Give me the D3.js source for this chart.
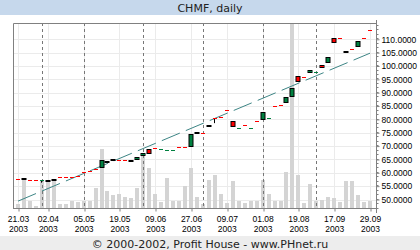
<!DOCTYPE html>
<html>
<head>
<meta charset="utf-8">
<script src="https://cdn.jsdelivr.net/npm/d3@7"></script>
<style>
body{margin:0;background:#fff}
svg{display:block}
</style>
</head>
<body>
<div id="chart"></div>
<script>
// daily quotes, one entry per trading day shown (60 days)
var opens = [57.6, 57.5, 57.35, 57.35, 57.25, 57.0, 57.4, 58.35, 58.35, 58.55,
	58.95, 60.25, 60.65, 61.35, 61.7, 64.2, 64.8, 64.75, 64.75, 64.4,
	64.7, 66.2, 68.9, 69.25, 68.75, 68.6, 68.35, 69.75, 69.75, 69.55,
	74.8, 74.95, 77.6, 80.45, 81.05, 83.55, 79.4, 76.65, 77.85, 76.65,
	79.35, 79.8, 80.35, 84.95, 85.35, 86.25, 88.5, 96.25, 96.05, 97.3,
	97.55, 100.4, 101.2, 110.4, 110.45, 105.5, 106.3, 107.0, 110.45, 113.55]
var closes = [57.5, 57.5, 57.25, 57.25, 57.35, 57.0, 57.4, 58.25, 58.25, 58.45,
	58.85, 60.15, 60.55, 61.25, 64.8, 64.2, 64.8, 64.65, 64.65, 64.4,
	66.0, 67.5, 67.2, 69.15, 68.85, 68.7, 68.45, 69.65, 69.65, 74.5,
	74.8, 74.85, 77.6, 80.35, 80.95, 83.45, 77.3, 76.75, 77.75, 76.75,
	79.25, 82.7, 80.45, 84.85, 85.25, 88.3, 91.65, 94.1, 95.95, 98.5,
	97.65, 99.1, 103.3, 108.5, 110.35, 104.75, 106.2, 109.5, 110.35, 113.45]
var lows = [{i: 4, v: 56.3}, {i: 33, v: 78.6}]
var volumes = [4, 28, 7, 2, 28, 27.6, 29, 4, 4, 7,
	6, 7, 7, 20, 59, 17, 13, 14, 11, 10,
	20, 54, 40, 14, 6, 30, 7, 7, 22, 40,
	11, 4, 28, 33, 14, 5, 27, 7, 5, 7,
	7, 28, 14, 7, 7, 36, 230, 33, 5, 24,
	7, 8, 11, 10, 6, 27, 27, 13, 6, 7]
// trend line end points (day index, price)
var trend = [{i: 0, v: 49.4}, {i: 59, v: 104.8}]
// labelled days and first trading day of each month
var tickDays = [0, 5, 11, 17, 23, 29, 35, 41, 47, 53, 59]
var tickDates = ["21.03", "02.04", "05.05", "19.05", "09.06", "27.06", "09.07", "01.08", "19.08", "17.09", "29.09"]
var tickYears = ["2003", "2003", "2003", "2003", "2003", "2003", "2003", "2003", "2003", "2003", "2003"]
var monthStarts = [4, 11, 21, 31, 41, 50]
var priceTicks = [50, 55, 60, 65, 70, 75, 80, 85, 90, 95, 100, 105, 110]

const width = 420, height = 250
const plot = {left: 13, right: 376, top: 23, bottom: 208}

const x = d3.scaleLinear().domain([0, 59]).range([18, 370])
const y = d3.scaleLinear().domain([46.82, 116.1]).range([plot.bottom, plot.top])
const yVol = d3.scaleLinear().domain([0, 185]).range([plot.bottom, plot.top])

const green = "#008040", red = "#ff0000", grid = "#ebebeb", axisGray = "#808080"
const font = '"Liberation Sans", Arial, sans-serif'

var svg = d3.select("#chart").append("svg")
	.attr("width", width)
	.attr("height", height)

svg.append("rect").attr("width", width).attr("height", height).attr("fill", "#fff")

// title bar
svg.append("rect").attr("x", 0).attr("y", 0).attr("width", width).attr("height", 15).attr("fill", "#c6d8ec")
svg.append("text")
	.attr("x", 210).attr("y", 11.5)
	.attr("text-anchor", "middle")
	.style("font-family", '"DejaVu Sans", Verdana, sans-serif')
	.style("font-size", "11px")
	.attr("fill", "#222")
	.text("CHMF, daily")

// footer
svg.append("rect").attr("x", 0).attr("y", 236).attr("width", width).attr("height", 14).attr("fill", "#ededed")
svg.append("text")
	.attr("x", 210).attr("y", 247.5)
	.attr("text-anchor", "middle")
	.style("font-family", '"DejaVu Sans", Verdana, sans-serif')
	.style("font-size", "11px")
	.attr("fill", "#222")
	.text("\u00a9 2000-2002, Profit House - www.PHnet.ru")

svg.append("clipPath").attr("id", "plotclip")
	.append("rect")
	.attr("x", plot.left).attr("y", plot.top)
	.attr("width", plot.right - plot.left).attr("height", plot.bottom - plot.top)

var g = svg.append("g").attr("clip-path", "url(#plotclip)")

function px(v){ return Math.round(v) + 0.5 }

// grid
g.selectAll(".hgrid").data(priceTicks).enter().append("line")
	.attr("x1", plot.left).attr("x2", plot.right)
	.attr("y1", d => px(y(d))).attr("y2", d => px(y(d)))
	.attr("stroke", grid)
g.selectAll(".vgrid").data(tickDays).enter().append("line")
	.attr("y1", plot.top).attr("y2", plot.bottom)
	.attr("x1", d => px(x(d))).attr("x2", d => px(x(d)))
	.attr("stroke", grid)

// volume
g.selectAll(".vol").data(volumes).enter().append("rect")
	.attr("x", (d, i) => Math.round(x(i)) - 2)
	.attr("width", 4)
	.attr("y", d => Math.round(yVol(d)))
	.attr("height", d => plot.bottom - Math.round(yVol(d)))
	.attr("fill", "#d4d4d4")

// month separators
g.selectAll(".month").data(monthStarts).enter().append("line")
	.attr("y1", plot.top).attr("y2", plot.bottom)
	.attr("x1", d => px(x(d))).attr("x2", d => px(x(d)))
	.attr("stroke", "#777")
	.attr("stroke-dasharray", "3,3")

// trend
g.append("path")
	.datum(trend)
	.attr("d", d3.line().x(d => x(d.i)).y(d => y(d.v)))
	.attr("fill", "none")
	.attr("stroke", "#3d8585")
	.attr("stroke-width", 1)
	.attr("stroke-dasharray", "19.5,6.5")

// wicks
g.selectAll(".wick").data(lows).enter().append("line")
	.attr("x1", d => px(x(d.i) - 0.5)).attr("x2", d => px(x(d.i) - 0.5))
	.attr("y1", d => y(Math.min(opens[d.i], closes[d.i])))
	.attr("y2", d => y(d.v))
	.attr("stroke", "#000")

// candles
var days = d3.range(opens.length)
var candle = g.selectAll(".candle").data(days).enter().append("g")
candle.each(function(i){
	var o = opens[i], c = closes[i]
	var cx = Math.round(x(i))
	var el = d3.select(this)
	var diff = c - o
	if (diff === 0) {
		// unchanged day: black bar
		el.append("rect")
			.attr("x", cx - 2.5).attr("width", 5)
			.attr("y", Math.round(y(c)) - 1).attr("height", 2)
			.attr("fill", "#000")
	} else if (Math.abs(diff) < 0.15) {
		// tiny move: thin coloured dash
		el.append("rect")
			.attr("x", cx - 2).attr("width", 4)
			.attr("y", Math.round(y(c))).attr("height", 1)
			.attr("fill", diff > 0 ? green : red)
	} else {
		var top = Math.round(y(Math.max(o, c)))
		var bot = Math.round(y(Math.min(o, c)))
		el.append("rect")
			.attr("x", cx - 2).attr("width", 4)
			.attr("y", top + 0.5).attr("height", Math.max(bot - top - 1, 1))
			.attr("fill", diff > 0 ? green : red)
			.attr("stroke", "#000")
			.attr("stroke-width", 1)
	}
})

// frame
svg.append("path")
	.attr("d", "M" + (plot.left + 0.5) + "," + plot.bottom + "V" + (plot.top + 0.5) + "H" + plot.right)
	.attr("fill", "none").attr("stroke", axisGray)

// x axis
var xAxis = svg.append("g")
	.attr("transform", "translate(0," + (plot.bottom + 0.5) + ")")
	.call(d3.axisBottom(x).tickValues(tickDays).tickSize(3).tickSizeOuter(0).tickFormat(""))
xAxis.select(".domain").attr("d", "M" + plot.left + ",0H" + (plot.right + 1)).attr("stroke", axisGray)
xAxis.selectAll(".tick line").attr("stroke", axisGray)
	.attr("transform", d => "translate(" + (Math.round(x(d)) + 0.5 - x(d)) + ",0)")
xAxis.selectAll(".tick").each(function(d, k){
	var t = d3.select(this).append("text")
		.attr("fill", "#000")
		.attr("text-anchor", "middle")
		.style("font-family", font)
		.style("font-size", "8.5px")
	t.append("tspan").attr("x", 0).attr("y", 13).text(tickDates[k])
	t.append("tspan").attr("x", 0).attr("y", 23).text(tickYears[k])
})

// y axis (right)
var yAxis = svg.append("g")
	.attr("transform", "translate(" + (plot.right + 0.5) + ",0)")
	.call(d3.axisRight(y).tickValues(priceTicks).tickSize(3).tickSizeOuter(0).tickPadding(2).tickFormat(d3.format(".4f")))
yAxis.select(".domain").attr("d", "M0," + (plot.top - 3) + "V" + (plot.bottom + 5)).attr("stroke", axisGray)
yAxis.selectAll(".tick line").attr("stroke", axisGray)
yAxis.selectAll(".tick text")
	.attr("fill", "#000")
	.style("font-family", font)
	.style("font-size", "8.5px")
var minor = d3.range(47, 116, 5 / 3)
yAxis.selectAll(".minor").data(minor).enter().append("line")
	.attr("x1", 0).attr("x2", 2)
	.attr("y1", d => px(y(d))).attr("y2", d => px(y(d)))
	.attr("stroke", axisGray)
</script>
</body>
</html>
